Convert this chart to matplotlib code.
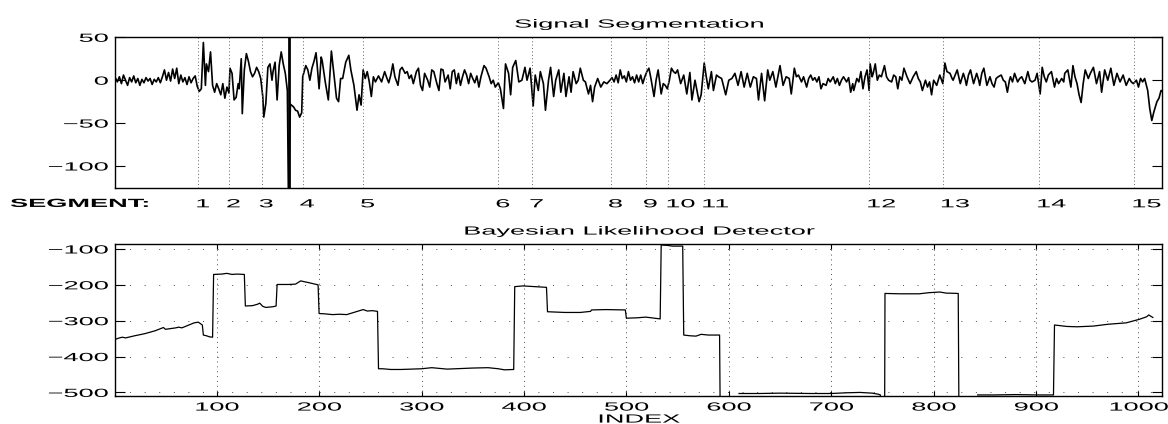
import numpy as np
import matplotlib
matplotlib.use('Agg')
import matplotlib.pyplot as plt
from matplotlib.patheffects import AbstractPathEffect
from matplotlib.transforms import Affine2D, blended_transform_factory

plt.rcParams['font.family'] = ['Liberation Sans', 'DejaVu Sans']

# signal samples (index, value)
sig_x = [1, 3, 5, 7, 9, 11, 13, 15, 17, 19, 21, 23, 25, 27, 29, 31, 33, 35, 37, 39,
         41, 43, 45, 47, 49, 51, 53, 55, 57, 59, 61, 63, 65, 67, 69, 71, 73, 75, 77, 79,
         81, 83, 85, 87, 89, 90, 92, 94, 96, 98, 100, 102, 104, 106, 108, 110, 112, 113, 115, 117,
         119, 121, 122, 124, 125, 127, 129, 131, 133, 135, 137, 139, 141, 143, 145, 146, 148, 150, 152, 154,
         155, 157, 159, 161, 163, 165, 167, 169, 170, 172, 175, 177, 179, 181, 183, 184, 187, 189, 191, 193,
         195, 197, 198, 200, 202, 203, 206, 209, 212, 214, 217, 219, 221, 223, 226, 229, 231, 234, 237, 239,
         241, 243, 245, 247, 249, 251, 253, 255, 258, 261, 264, 266, 268, 270, 272, 274, 277, 279, 281, 284,
         286, 288, 290, 292, 295, 297, 299, 301, 303, 306, 308, 310, 312, 315, 317, 319, 321, 323, 326, 328,
         330, 332, 334, 336, 338, 340, 342, 344, 346, 348, 350, 352, 354, 356, 358, 361, 363, 366, 368, 370,
         372, 375, 377, 380, 382, 385, 387, 389, 392, 395, 398, 401, 403, 406, 409, 411, 414, 416, 419, 421,
         424, 426, 429, 431, 434, 436, 439, 441, 444, 446, 448, 451, 453, 455, 458, 460, 463, 465, 467, 469,
         472, 475, 478, 481, 484, 486, 488, 490, 492, 494, 496, 498, 500, 502, 504, 506, 508, 510, 512, 514,
         516, 518, 520, 522, 524, 527, 529, 531, 534, 536, 538, 540, 542, 544, 546, 548, 550, 553, 556, 559,
         562, 564, 567, 571, 573, 576, 578, 580, 583, 585, 588, 590, 593, 597, 600, 603, 606, 609, 612, 615,
         618, 621, 624, 627, 629, 632, 635, 638, 640, 643, 646, 650, 653, 656, 659, 661, 664, 666, 668, 671,
         673, 676, 678, 680, 682, 684, 686, 688, 690, 692, 695, 697, 699, 702, 704, 706, 708, 710, 712, 715,
         717, 719, 721, 722, 725, 727, 729, 731, 733, 735, 737, 738, 740, 741, 743, 745, 747, 749, 752, 754,
         756, 759, 761, 763, 765, 767, 769, 771, 774, 777, 780, 783, 785, 787, 789, 792, 794, 796, 798, 800,
         803, 806, 809, 811, 813, 816, 818, 819, 821, 823, 826, 829, 831, 832, 834, 836, 839, 842, 844, 845,
         847, 849, 852, 855, 857, 859, 861, 863, 866, 868, 870, 872, 874, 875, 877, 879, 882, 884, 886, 889,
         892, 894, 896, 899, 901, 904, 906, 908, 910, 912, 915, 917, 918, 920, 922, 925, 927, 928, 931, 934,
         936, 938, 940, 942, 944, 946, 948, 951, 953, 956, 959, 962, 964, 967, 970, 973, 976, 979, 982, 985,
         988, 991, 993, 995, 998, 1000, 1002, 1004, 1006, 1009, 1011, 1013, 1015, 1018, 1020, 1022, 1024]
sig_y = [3, -2, 4, -4, 6, 0, -6, 3, -2, 5, -3, 2, -6, 1, -3, 3, -1, 2, -5, 1,
         -2, 3, -3, 4, 12, 0, 9, -1, 13, 2, 14, -4, 6, -2, 3, -5, 4, -3, 2, 5,
         -7, -13, -10, 44, -6, 19, 10, 33, -6, -14, -4, -10, -17, -4, -21, -8, -15, 14, 8, -23,
         -20, -4, -10, 25, -39, 12, 31, 22, 10, 4, 8, 15, 10, 2, -19, -43, -27, 15, 19, 0,
         10, 21, -23, 17, 33, 19, 8, -12, -130, -28, -31, -35, -36, -43, -38, 4, 17, 12, 0, 14,
         22, 32, 19, -10, 27, 23, -2, -23, 34, 12, -21, -25, 2, 2, 21, 29, 12, -6, -35, -17,
         -29, 12, 2, 10, -2, -19, 4, -2, 5, -2, 10, 3, -3, 6, 19, 4, -6, 12, 15, 8,
         10, 2, 6, -4, 10, 14, -6, -12, 8, 0, -8, 12, 10, -4, -12, 13, 12, -2, 6, -10,
         10, 12, -4, 8, -6, 4, 12, 6, -4, 8, 2, -3, 5, -8, 4, 17, 14, 4, -4, 0,
         -8, -3, -10, -33, 19, 8, -17, 15, 23, -2, 0, 15, 0, 14, -30, 6, -12, 10, -4, -35,
         0, 15, -19, 0, 12, -14, 8, -19, 4, -14, 10, -4, 0, 14, 0, -2, -16, -6, -25, -8,
         2, -8, -2, -4, 0, 3, -2, 6, -3, 12, 2, 5, -2, 10, 0, 4, -3, 6, -2, 6,
         -4, 4, 10, 14, 2, -19, 0, 12, -16, -4, -6, -10, 0, 14, 10, 8, 12, -4, 6, -16,
         9, -23, 0, -25, -17, 20, 4, -10, 10, -12, 6, 4, 2, -17, 0, 2, 8, -6, 10, -8,
         8, -8, 4, 2, -23, 8, -24, 12, 0, 10, -8, 17, -6, 4, 2, -16, 14, 4, 6, -2,
         4, -8, 2, 6, 0, 3, -2, 4, -10, -4, -6, 2, -2, 4, -4, 2, -6, 0, 4, -2,
         3, -14, -4, -12, 2, -2, 10, -10, 4, 12, -12, 19, 4, 8, 19, 0, 6, 4, 17, 4,
         0, -2, 6, 4, -10, 4, 0, 14, 4, -4, 4, 10, 2, -2, -12, 0, -8, -2, -17, 0,
         -6, 6, -4, 20, 10, 8, 2, 0, 6, 12, -4, 8, 0, -6, 6, 12, -4, 8, 0, -6,
         8, 14, -6, 4, -4, -8, 2, 4, 6, 0, -2, -14, 0, 4, -2, 8, -2, 2, 4, -4,
         10, 0, -2, 0, 8, -16, 15, 4, -2, 6, 10, -2, -8, 2, -4, 2, -2, 8, 12, -8,
         17, 4, -4, -17, -26, -4, 12, 2, 8, 15, -4, 10, -14, 12, 0, 14, -6, 8, -2, 6,
         -6, 2, -2, -4, 0, -8, 2, -2, 2, -12, -33, -47, -37, -25, -21, -12, -14]

# likelihood detector output (nan = off the bottom of the plot)
like_x = [1, 5, 8, 11, 20, 30, 40, 46, 48, 50, 55, 60, 63, 66, 72, 78, 82, 84, 86, 87,
          90, 93, 96, 97, 105, 110, 115, 120, 127, 128, 135, 140, 142, 145, 148, 155, 158, 159, 170, 177,
          182, 190, 199, 200, 206, 213, 220, 227, 235, 243, 247, 252, 257, 258, 262, 270, 280, 300, 310, 325,
          350, 365, 375, 381, 390, 391, 399, 410, 422, 423, 440, 455, 465, 466, 480, 499, 500, 510, 519, 533,
          534, 540, 545, 555, 556, 562, 568, 573, 580, 591, 592, 600, 610, 630, 650, 680, 700, 715, 728, 740,
          746, 748, 749, 752, 752.5, 767, 786, 795, 806, 812, 824, 825, 830, 843, 860, 880, 900, 917, 918, 930,
          940, 956, 970, 988, 1001, 1008, 1010, 1014]
like_y = [-352, -348, -346, -348, -342, -336, -328, -321, -319, -324, -322, -320, -318, -320, -313, -306, -304, -308, -312, -340,
          -342, -345, -346, -171, -170, -168, -171, -170, -171, -259, -258, -254, -251, -260, -263, -261, -259, -199, -199, -198,
          -189, -194, -200, -280, -281, -283, -282, -283, -276, -269, -273, -272, -274, -434, -434, -436, -436, -434, -431, -435,
          -432, -431, -434, -437, -436, -205, -203, -205, -207, -275, -277, -277, -274, -270, -269, -270, -293, -292, -290, -295,
          -89, -90, -92, -92, -340, -342, -343, -338, -340, -340, -700, np.nan, -503, -503, -502, -503, -503, -501, -500, -502,
          -505, -507, -700, -700, -224, -225, -225, -222, -220, -223, -224, -700, np.nan, -507, -507, -506, -507, -507, -312, -316,
          -317, -315, -310, -306, -296, -289, -284, -291]

seg_pos = [82, 112, 144, 184, 243, 375, 408, 485, 519, 541, 576, 737, 809, 903, 996]
seg_labels = ['1', '2', '3', '4', '5', '6', '7', '8', '9', '10', '11', '12', '13', '14', '15']
change_pos = 171

sig_yticks = [50, 0, -50, -100]
like_yticks = [-100, -200, -300, -400, -500]
index_ticks = [100, 200, 300, 400, 500, 600, 700, 800, 900, 1000]


# the original text is printed wide, stretch glyphs horizontally
class StretchX(AbstractPathEffect):
    def __init__(self, sx=2.3, anchor=0.5):
        super().__init__()
        self.sx = sx
        self.anchor = anchor

    def draw_path(self, renderer, gc, tpath, affine, rgbFace=None):
        v = tpath.vertices
        if len(v):
            x0, x1 = v[:, 0].min(), v[:, 0].max()
            cx = x0 + self.anchor * (x1 - x0)
            affine = Affine2D().translate(-cx, 0).scale(self.sx, 1).translate(cx, 0) + affine
        renderer.draw_path(gc, tpath, affine, rgbFace)


FS = 8.5
fig = plt.figure(figsize=(11.68, 4.24), dpi=100)
ax1 = fig.add_axes([0.0987, 0.5559, 0.8962, 0.3561])
ax2 = fig.add_axes([0.0987, 0.0660, 0.8962, 0.3578])

# top: signal with segment boundaries
ax1.plot(sig_x, sig_y, color='k', lw=1.2)
for p in seg_pos:
    ax1.axvline(p, color='0.4', lw=0.7, ls=(0, (1, 2.5)))
ax1.axvline(change_pos, color='k', lw=2)
ax1.set_xlim(1, 1023)
ax1.set_ylim(-126, 50)
ax1.set_yticks(sig_yticks, ['50', '0', '\u221250', '\u2212100'])
ax1.set_xticks([])
ax1.tick_params(axis='y', direction='in', length=7.5, width=0.8, left=True, right=True,
                labelsize=FS, pad=5)
ax1.set_title('Signal Segmentation', fontsize=FS, pad=7)

trans = blended_transform_factory(ax1.transData, ax1.transAxes)
for p, lab in zip(seg_pos, seg_labels):
    t = ax1.text(p - 3, -0.106, lab, transform=trans, ha='left', va='center', fontsize=FS)
    t.set_path_effects([StretchX(anchor=0)])
t = fig.text(0.0086, 0.519, 'SEGMENT:', ha='left', va='center', fontsize=FS, weight='bold')
t.set_path_effects([StretchX(anchor=0)])

# bottom: likelihood detector
ax2.plot(like_x, like_y, color='k', lw=0.9)
ax2.set_xlim(1, 1023)
ax2.set_ylim(-510, -87)
ax2.set_yticks(like_yticks, ['\u2212100', '\u2212200', '\u2212300', '\u2212400', '\u2212500'])
ax2.set_xticks(index_ticks)
ax2.grid(True, axis='x', color='0.3', lw=0.7, ls=(0, (1, 4)))
ax2.grid(True, axis='y', color='0.3', lw=0.7, ls=(0, (1, 14)))
ax2.tick_params(axis='y', direction='in', length=7.5, width=0.8, left=True, right=True,
                labelsize=FS, pad=5)
ax2.tick_params(axis='x', direction='in', length=3.5, width=0.8, top=True, bottom=True,
                labelsize=FS, pad=4)
ax2.set_title('Bayesian Likelihood Detector', fontsize=FS, pad=7)
ax2.set_xlabel('INDEX', fontsize=FS, labelpad=0)

for ax in (ax1, ax2):
    for s in ax.spines.values():
        s.set_linewidth(1.0)
    for lab in ax.get_yticklabels():
        lab.set_path_effects([StretchX(anchor=1)])
    for lab in ax.get_xticklabels():
        lab.set_path_effects([StretchX(anchor=0.5)])
    ax.title.set_path_effects([StretchX(anchor=0.5)])
ax2.xaxis.label.set_path_effects([StretchX(anchor=0.5)])

fig.savefig('out.png', dpi=100)
